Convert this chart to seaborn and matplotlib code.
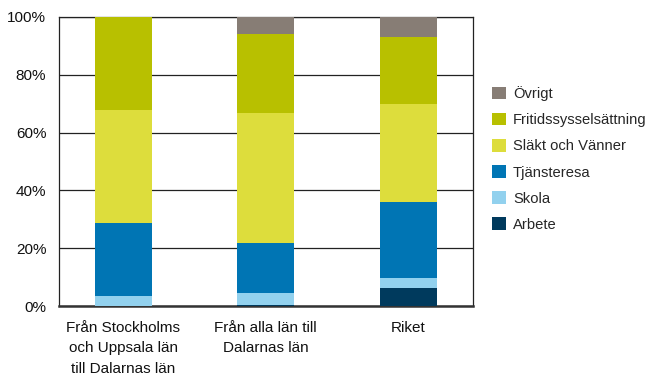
import numpy as np
import pandas as pd
import seaborn as sns
import matplotlib.pyplot as plt
from matplotlib.patches import Patch

# Data (percent of trips per purpose)
categories = ["Från Stockholms\noch Uppsala län\ntill Dalarnas län",
              "Från alla län till\nDalarnas län",
              "Riket"]
reasons = ["Arbete", "Skola", "Tjänsteresa", "Släkt och Vänner",
           "Fritidssysselsättning", "Övrigt"]
arbete = [0.0, 0.5, 6.2]
skola = [3.5, 4.0, 3.5]
tjansteresa = [25.2, 17.3, 26.2]
slakt = [39.0, 44.9, 33.9]
fritid = [32.3, 27.4, 23.2]
ovrigt = [0.0, 5.9, 7.0]
colors = ["#003a5d", "#92d1ee", "#0075b4", "#dddd3c", "#b8c000", "#877d75"]

sns.set_theme(style="white")
plt.rcParams['font.family'] = ['Liberation Sans', 'DejaVu Sans']

df = pd.DataFrame({"kategori": categories, "Arbete": arbete, "Skola": skola,
                   "Tjänsteresa": tjansteresa, "Släkt och Vänner": slakt,
                   "Fritidssysselsättning": fritid, "Övrigt": ovrigt})
cum = df[reasons].cumsum(axis=1)

fig = plt.figure(figsize=(6.53, 3.77), dpi=100)
ax = fig.add_axes([0.090, 0.188, 0.634, 0.767])

# draw cumulative totals from the top segment down so each layer shows
for reason, col in reversed(list(zip(reasons, colors))):
    sns.barplot(x=df["kategori"], y=cum[reason], color=col, width=0.4,
                saturation=1, ax=ax, zorder=3, linewidth=0, edgecolor="none")

ax.set_xlim(-0.453, 2.453)
ax.set_ylim(0, 100)
ax.set_yticks(np.arange(0, 101, 20))
ax.set_yticklabels([f"{v}%" for v in range(0, 101, 20)])
ax.yaxis.grid(True, color="#222222", linewidth=0.9, zorder=0)
ax.set_axisbelow(True)
ax.set_xlabel("")
ax.set_ylabel("")
ax.tick_params(axis="both", length=0, labelsize=11, colors="#111111")
ax.tick_params(axis="x", pad=11)
ax.tick_params(axis="y", pad=9)
for lbl in ax.get_xticklabels():
    lbl.set_linespacing(1.55)
for s in ["left", "right", "top"]:
    ax.spines[s].set_color("#222222")
    ax.spines[s].set_linewidth(0.9)
ax.spines["bottom"].set_color("#333333")
ax.spines["bottom"].set_linewidth(1.8)

handles = [Patch(facecolor=c, edgecolor="none") for c in colors]
fig.legend(handles[::-1], reasons[::-1], loc="upper left",
           bbox_to_anchor=(0.753, 0.772), frameon=False, fontsize=10.6,
           handlelength=0.95, handleheight=0.95, handletextpad=0.5,
           labelspacing=0.8, borderaxespad=0, borderpad=0)

fig.savefig("out.png", dpi=100)
